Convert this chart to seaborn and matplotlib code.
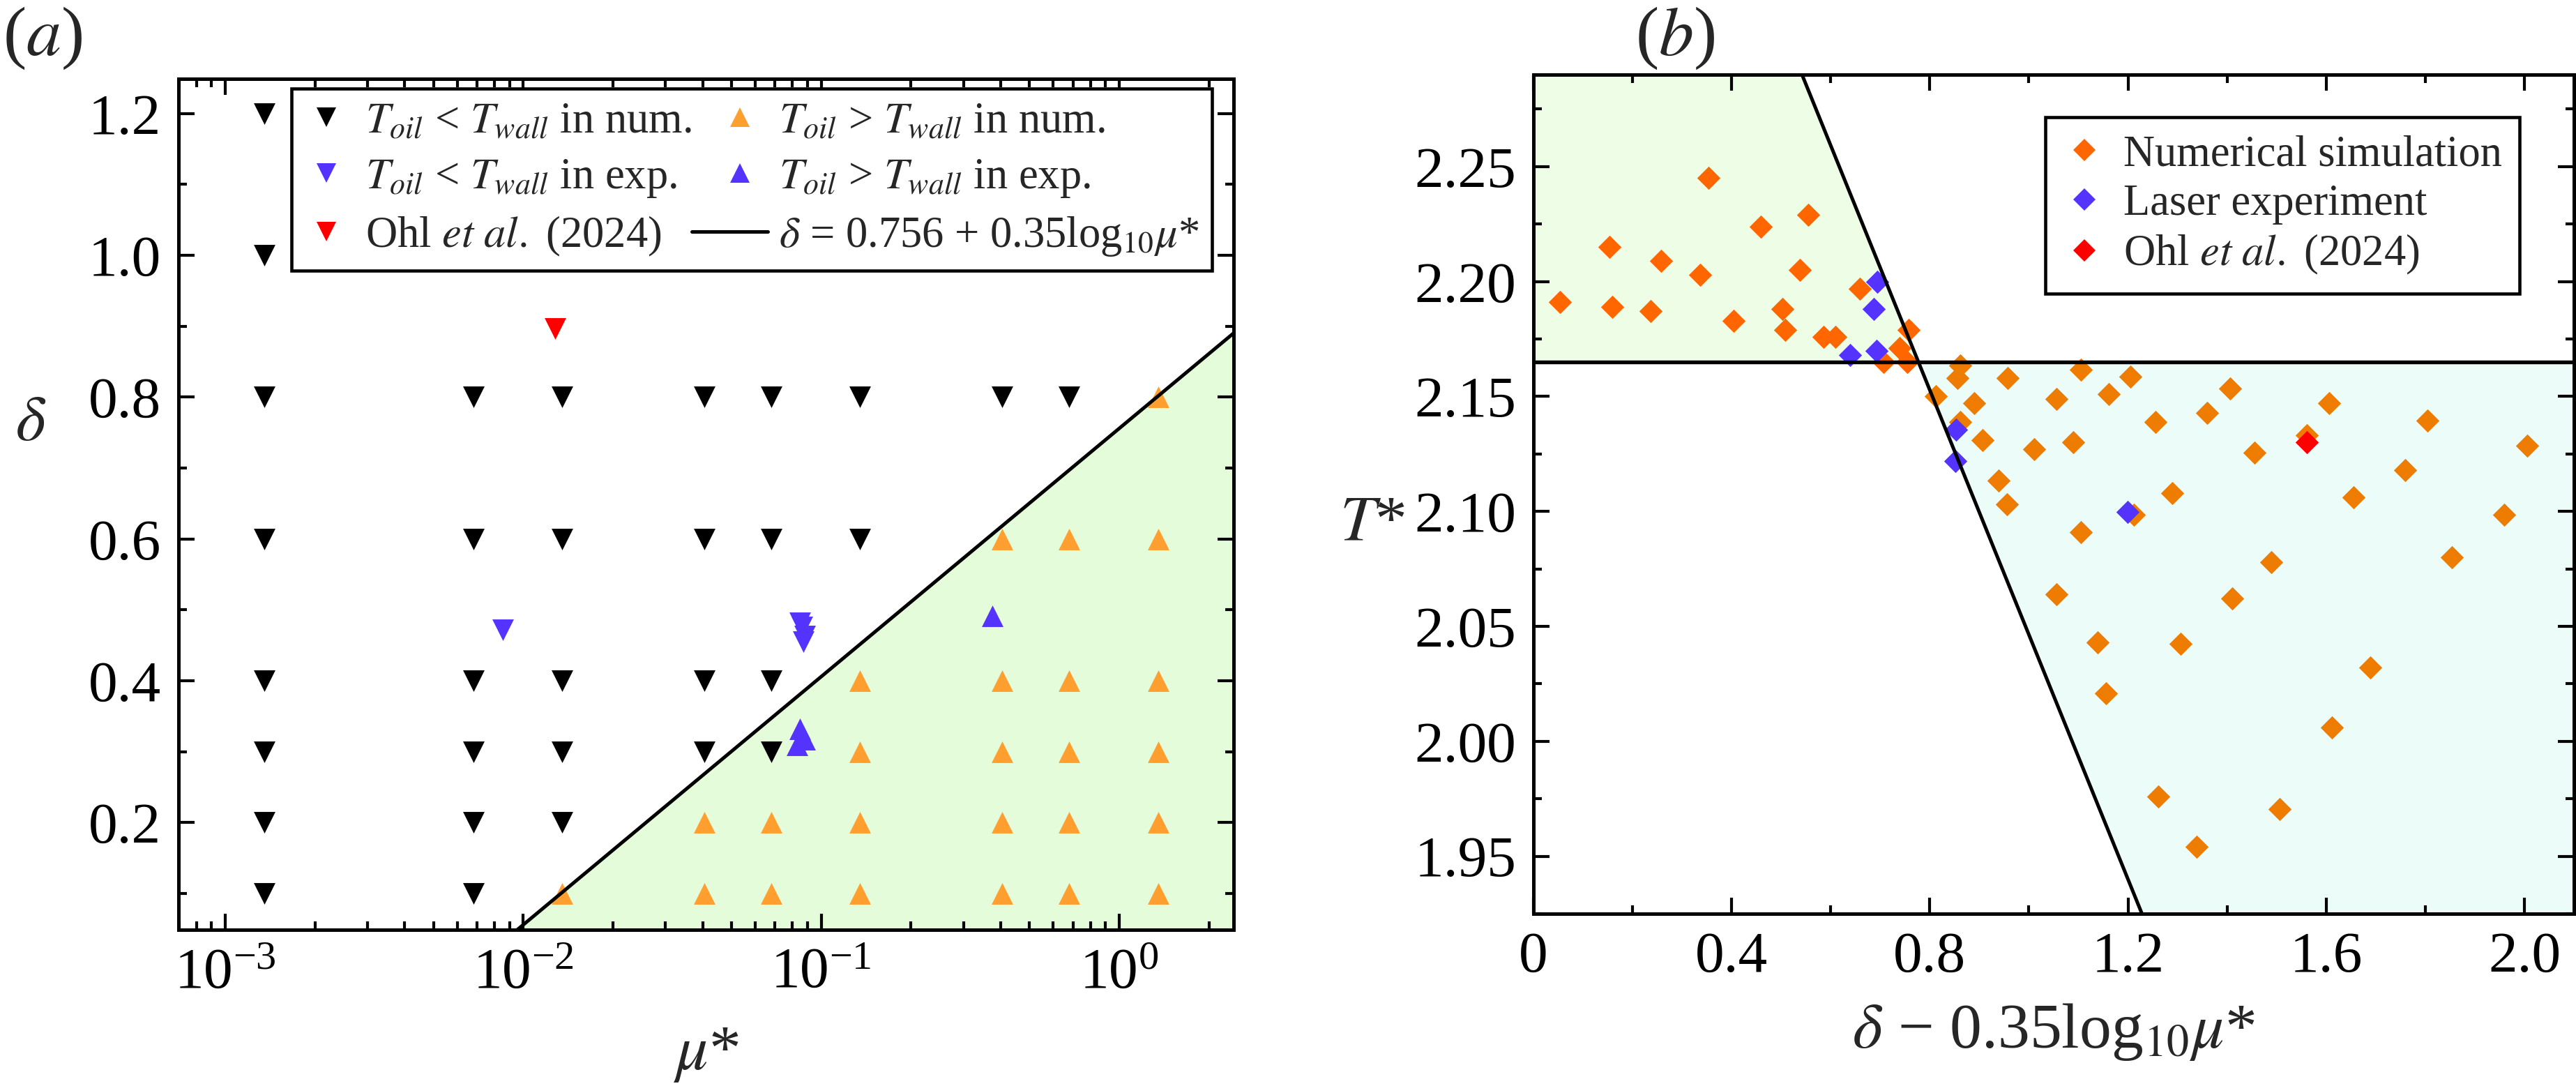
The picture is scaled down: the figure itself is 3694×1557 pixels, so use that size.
import numpy as np
import matplotlib
matplotlib.use("Agg")
import matplotlib.pyplot as plt
import seaborn as sns
from matplotlib.lines import Line2D
from matplotlib.legend_handler import HandlerLine2D
from matplotlib.ticker import MultipleLocator, FuncFormatter, LogLocator, NullFormatter

# ---------------- panel (a): regime map in (mu*, delta) ----------------
# numerical runs, T_oil < T_wall
num_below_mu = [0.00135, 0.00135, 0.00135, 0.00135, 0.00135, 0.00135, 0.00135, 0.00135,
                0.0068, 0.0068, 0.0068, 0.0068, 0.0068, 0.0068,
                0.0135, 0.0135, 0.0135, 0.0135, 0.0135,
                0.0405, 0.0405, 0.0405, 0.0405,
                0.068, 0.068, 0.068, 0.068,
                0.135, 0.135,
                0.405,
                0.68]
num_below_delta = [1.2, 1.0, 0.8, 0.6, 0.4, 0.3, 0.2, 0.1,
                   0.8, 0.6, 0.4, 0.3, 0.2, 0.1,
                   0.8, 0.6, 0.4, 0.3, 0.2,
                   0.8, 0.6, 0.4, 0.3,
                   0.8, 0.6, 0.4, 0.3,
                   0.8, 0.6,
                   0.8,
                   0.8]
# numerical runs, T_oil > T_wall
num_above_mu = [0.0135,
                0.0405, 0.0405,
                0.068, 0.068,
                0.135, 0.135, 0.135, 0.135,
                0.405, 0.405, 0.405, 0.405, 0.405,
                0.68, 0.68, 0.68, 0.68, 0.68,
                1.35, 1.35, 1.35, 1.35, 1.35, 1.35]
num_above_delta = [0.1,
                   0.2, 0.1,
                   0.2, 0.1,
                   0.4, 0.3, 0.2, 0.1,
                   0.6, 0.4, 0.3, 0.2, 0.1,
                   0.6, 0.4, 0.3, 0.2, 0.1,
                   0.8, 0.6, 0.4, 0.3, 0.2, 0.1]
# experiments
exp_below_mu = [0.00853, 0.085, 0.086, 0.088, 0.087]
exp_below_delta = [0.472, 0.482, 0.476, 0.463, 0.455]
exp_above_mu = [0.376, 0.085, 0.083, 0.088]
exp_above_delta = [0.492, 0.332, 0.310, 0.318]
# Ohl et al. (2024)
ohl_mu = [0.0128]
ohl_delta = [0.897]
# boundary delta = 0.756 + 0.35 log10(mu*)
fit_a, fit_b = 0.756, 0.35

# ---------------- panel (b): T* versus delta - 0.35 log10 mu* ----------------
sim_x = [0.053, 0.153, 0.159, 0.258, 0.236, 0.353, 0.336, 0.404, 0.459, 0.503,
         0.508, 0.554, 0.537, 0.586, 0.609, 0.659, 0.757, 0.739, 0.706, 0.755,
         0.861, 0.856, 0.957, 0.812, 0.889, 0.861, 0.906, 1.010, 0.939, 0.955,
         1.055, 1.105, 1.056, 1.161, 1.205, 1.406, 1.256, 1.360, 1.606, 1.805,
         1.089, 1.456, 1.561, 2.006, 1.760, 1.289, 1.212, 1.105, 1.655, 1.959,
         1.854, 1.489, 1.411, 1.139, 1.306, 1.689, 1.156, 1.611, 1.261, 1.506,
         1.338]
sim_T = [2.191, 2.215, 2.189, 2.209, 2.187, 2.245, 2.203, 2.183, 2.224, 2.188,
         2.179, 2.229, 2.205, 2.176, 2.176, 2.197, 2.179, 2.171, 2.165, 2.165,
         2.1635, 2.158, 2.158, 2.150, 2.147, 2.139, 2.131, 2.127, 2.1135, 2.103,
         2.064, 2.1616, 2.1488, 2.151, 2.1587, 2.1535, 2.139, 2.1427, 2.147, 2.1395,
         2.130, 2.1256, 2.133, 2.1287, 2.118, 2.108, 2.0986, 2.091, 2.106, 2.0986,
         2.080, 2.078, 2.062, 2.043, 2.0425, 2.032, 2.021, 2.006, 1.976, 1.9705,
         1.954]
laser_x = [0.694, 0.687, 0.639, 0.692, 0.853, 0.851, 1.199]
laser_T = [2.200, 2.188, 2.168, 2.170, 2.1355, 2.122, 2.0997]
ohl_x = [1.561]
ohl_T = [2.130]
# regime boundaries in (b)
T_crit = 2.165
x_cross = 0.777
slope_b = -0.532

# colours
C_ORANGE_A = "#ff9f30"
C_BLUE = "#5533ff"
C_RED = "#ff0000"
C_ORANGE_L = "#ff6600"
C_ORANGE_R = "#ee7c00"
C_GREEN_A = "#e5fcdb"
C_GREEN_B = "#eefde5"
C_CYAN_B = "#ecfdf9"

sns.set_style("ticks")
plt.rcParams["font.family"] = ["Liberation Serif", "DejaVu Serif"]
plt.rcParams["mathtext.fontset"] = "stix"
plt.rcParams["axes.linewidth"] = 1.2
plt.rcParams["axes.edgecolor"] = "black"

W, H, DPI = 3694, 1557, 300
fig = plt.figure(figsize=(W / DPI, H / DPI), dpi=DPI)
ax_a = fig.add_axes([256 / W, 1 - 1333 / H, 1513 / W, 1220 / H])
ax_b = fig.add_axes([2199 / W, 1 - 1310 / H, 1492 / W, 1203 / H])

TICK_FS = 20
LAB_FS = 22
LEG_FS = 15


def style_ticks(ax):
    ax.tick_params(which="both", direction="in", top=True, right=True,
                   labelsize=TICK_FS, colors="black", width=1.0)
    ax.tick_params(which="major", length=5.5, pad=6)
    ax.tick_params(which="minor", length=2.8)


class WideLine(HandlerLine2D):
    # longer line handle than the marker handles
    def create_artists(self, legend, orig_handle, xdescent, ydescent,
                       width, height, fontsize, trans):
        ext = 0.6 * fontsize
        return super().create_artists(legend, orig_handle, xdescent + ext, ydescent,
                                      width + 1.25 * ext, height, fontsize, trans)


# ---------------- panel (a) ----------------
ax = ax_a
xlo, xhi = 6.97e-4, 2.42
ylo, yhi = 0.049, 1.249
mu0 = 10 ** ((ylo - fit_a) / fit_b)
mu_line = np.logspace(np.log10(mu0), np.log10(xhi), 200)
d_line = fit_a + fit_b * np.log10(mu_line)
ax.fill_between(mu_line, ylo, d_line, color=C_GREEN_A, lw=0, zorder=0)

s_tri = 55
sns.scatterplot(x=num_below_mu, y=num_below_delta, marker="v", color="black",
                s=s_tri, linewidth=0, ax=ax, zorder=3)
sns.scatterplot(x=num_above_mu, y=num_above_delta, marker="^", color=C_ORANGE_A,
                s=s_tri, linewidth=0, ax=ax, zorder=3)
sns.scatterplot(x=exp_below_mu, y=exp_below_delta, marker="v", color=C_BLUE,
                s=s_tri, linewidth=0, ax=ax, zorder=3)
sns.scatterplot(x=exp_above_mu, y=exp_above_delta, marker="^", color=C_BLUE,
                s=s_tri, linewidth=0, ax=ax, zorder=3)
sns.scatterplot(x=ohl_mu, y=ohl_delta, marker="v", color=C_RED,
                s=s_tri, linewidth=0, ax=ax, zorder=3)
ax.plot(mu_line, d_line, color="black", lw=1.2, zorder=4)

ax.set_xscale("log")
ax.set_xlim(xlo, xhi)
ax.set_ylim(ylo, yhi)
ax.xaxis.set_major_locator(LogLocator(base=10, numticks=10))
ax.xaxis.set_minor_locator(LogLocator(base=10, subs=np.arange(2, 10), numticks=20))
ax.xaxis.set_minor_formatter(NullFormatter())
ax.yaxis.set_major_locator(MultipleLocator(0.2))
ax.yaxis.set_minor_locator(MultipleLocator(0.1))
ax.yaxis.set_major_formatter(FuncFormatter(lambda v, p: f"{v:.1f}"))
style_ticks(ax)
ax.set_xlabel(r"$\mu$*", fontsize=LAB_FS, labelpad=9)
ax.set_ylabel(r"$\delta$", fontsize=LAB_FS, rotation=0)
ax.yaxis.set_label_coords(-0.14, 0.56)

handles_a = [
    Line2D([], [], ls="none", marker="v", ms=6.5, mfc="black", mec="none"),
    Line2D([], [], ls="none", marker="v", ms=6.5, mfc=C_BLUE, mec="none"),
    Line2D([], [], ls="none", marker="v", ms=6.5, mfc=C_RED, mec="none"),
    Line2D([], [], ls="none", marker="^", ms=6.5, mfc=C_ORANGE_A, mec="none"),
    Line2D([], [], ls="none", marker="^", ms=6.5, mfc=C_BLUE, mec="none"),
    Line2D([], [], color="black", lw=1.2),
]
labels_a = [
    r"$T_{oil}$ < $T_{wall}$ in num.",
    r"$T_{oil}$ < $T_{wall}$ in exp.",
    r"Ohl $et\ al.$ (2024)",
    r"$T_{oil}$ > $T_{wall}$ in num.",
    r"$T_{oil}$ > $T_{wall}$ in exp.",
    r"$\delta$ = 0.756 + 0.35log$_{10}\mu$*",
]
leg = ax.legend(handles_a, labels_a, ncol=2, loc="upper right",
                bbox_to_anchor=(0.9795, 0.9885), borderaxespad=0,
                fontsize=LEG_FS, frameon=True, fancybox=False, framealpha=1,
                edgecolor="black", handlelength=1.0, handletextpad=0.4,
                columnspacing=0.6, labelspacing=0.35, borderpad=0.3,
                handler_map={handles_a[5]: WideLine(numpoints=1)})
leg.get_frame().set_linewidth(1.1)
leg.set_zorder(5)

# ---------------- panel (b) ----------------
ax = ax_b
bx_lo, bx_hi = 0.0, 2.1
by_lo, by_hi = 1.925, 2.29
T_up = np.linspace(T_crit, by_hi, 50)
T_dn = np.linspace(by_lo, T_crit, 50)
ax.fill_betweenx(T_up, bx_lo, x_cross + (T_up - T_crit) / slope_b,
                 color=C_GREEN_B, lw=0, zorder=0)
ax.fill_betweenx(T_dn, x_cross + (T_dn - T_crit) / slope_b, bx_hi,
                 color=C_CYAN_B, lw=0, zorder=0)

sim_x_arr = np.array(sim_x)
sim_T_arr = np.array(sim_T)
left = sim_x_arr < x_cross + 0.005
s_dia = 32
sns.scatterplot(x=sim_x_arr[left], y=sim_T_arr[left], marker="D", color=C_ORANGE_L,
                s=s_dia, linewidth=0, ax=ax, zorder=3)
sns.scatterplot(x=sim_x_arr[~left], y=sim_T_arr[~left], marker="D", color=C_ORANGE_R,
                s=s_dia, linewidth=0, ax=ax, zorder=3)
sns.scatterplot(x=laser_x, y=laser_T, marker="D", color=C_BLUE,
                s=s_dia, linewidth=0, ax=ax, zorder=4)
sns.scatterplot(x=ohl_x, y=ohl_T, marker="D", color=C_RED,
                s=s_dia, linewidth=0, ax=ax, zorder=4)

T_all = np.array([by_lo, by_hi])
ax.plot(x_cross + (T_all - T_crit) / slope_b, T_all, color="black", lw=1.2, zorder=5)
ax.axhline(T_crit, color="black", lw=1.3, zorder=5)

ax.set_xlim(bx_lo, bx_hi)
ax.set_ylim(by_lo, by_hi)
ax.xaxis.set_major_locator(MultipleLocator(0.4))
ax.xaxis.set_minor_locator(MultipleLocator(0.2))
ax.xaxis.set_major_formatter(FuncFormatter(lambda v, p: "0" if abs(v) < 1e-9 else f"{v:.1f}"))
ax.yaxis.set_major_locator(MultipleLocator(0.05))
ax.yaxis.set_minor_locator(MultipleLocator(0.025))
ax.yaxis.set_major_formatter(FuncFormatter(lambda v, p: f"{v:.2f}"))
style_ticks(ax)
ax.set_xlabel("$\\delta$ \u2212 0.35log$_{10}\\mu$*", fontsize=LAB_FS, labelpad=6)
ax.set_ylabel(r"$T$*", fontsize=LAB_FS, rotation=0)
ax.yaxis.set_label_coords(-0.155, 0.43)

handles_b = [
    Line2D([], [], ls="none", marker="D", ms=5.6, mfc=C_ORANGE_L, mec="none"),
    Line2D([], [], ls="none", marker="D", ms=5.6, mfc=C_BLUE, mec="none"),
    Line2D([], [], ls="none", marker="D", ms=5.6, mfc=C_RED, mec="none"),
]
labels_b = ["Numerical simulation", "Laser experiment", r"Ohl $et\ al.$ (2024)"]
leg_b = ax.legend(handles_b, labels_b, loc="upper right",
                  bbox_to_anchor=(0.948, 0.949), borderaxespad=0,
                  fontsize=LEG_FS, frameon=True, fancybox=False, framealpha=1,
                  edgecolor="black", handlelength=1.0, handletextpad=0.4,
                  labelspacing=0.2, borderpad=0.4)
leg_b.get_frame().set_linewidth(1.1)
leg_b.set_zorder(6)

# panel letters
fig.text(0.001, 0.995, r"($a$)", fontsize=24, va="top", ha="left")
fig.text(2345 / W, 0.995, r"($b$)", fontsize=24, va="top", ha="left")

fig.savefig("out.png", dpi=DPI)
